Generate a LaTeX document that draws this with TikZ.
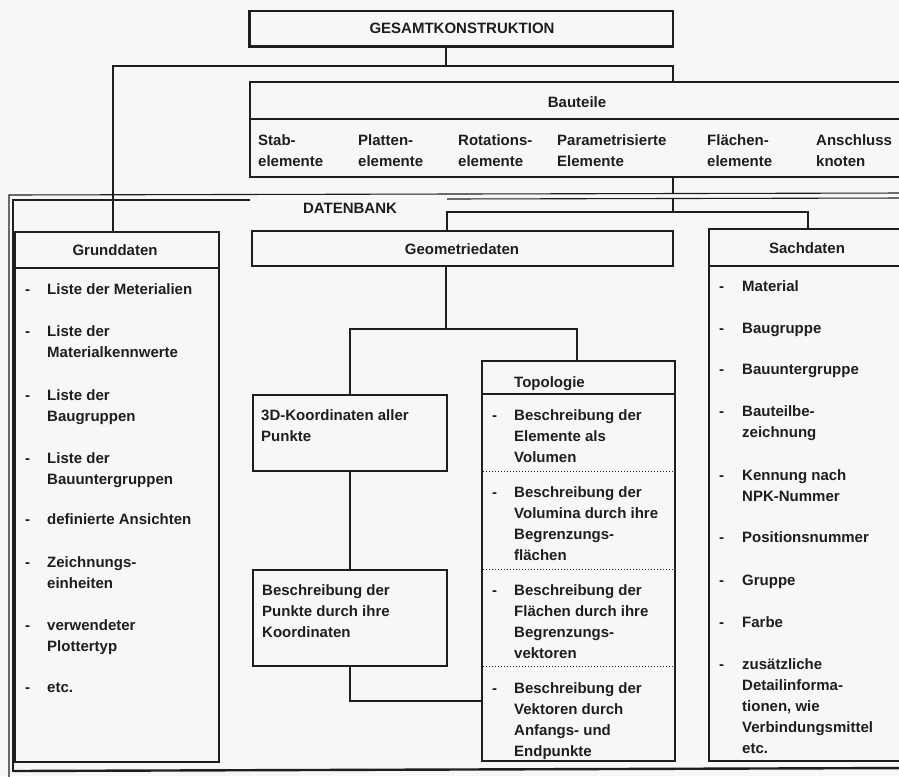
\documentclass[tikz,border=0pt]{standalone}
\usepackage{fontspec}
\setmainfont{Liberation Sans}
\newcommand\fsz{\fontsize{15}{21}\selectfont\bfseries}
\newcommand\mlines[1]{\begin{tabular}[t]{@{}l@{}}#1\end{tabular}}
\newcommand\listentry[5]{\node[lst] (#1d) at (#2,#4) {-};\node[lst] (#1) at (#3,#4) {\mlines{#5}};}
\definecolor{ink}{RGB}{30,30,30}
\definecolor{paper}{RGB}{248,247,246}
\begin{document}
\begin{tikzpicture}[x=1pt,y=-1pt,
  every node/.style={text=ink},
  box/.style={draw=ink, line width=1.1pt, rectangle, inner sep=0pt},
  lw/.style={draw=ink, line width=1.1pt},
  div/.style={draw=ink, line width=2.4pt},
  dots/.style={draw=ink, line width=1pt, dash pattern=on 1pt off 2pt},
  ttl/.style={inner sep=0pt, font=\fsz},
  lst/.style={inner sep=0pt, anchor=base west, font=\fsz}]
\fill[paper] (0,0) rectangle (899,776);
\useasboundingbox (0,0) rectangle (899,776);

% boxes
\node[box, minimum width=423pt, minimum height=35pt] (ges) at (461.5,28.5) {};
\draw[line width=2.6pt, ink] (ges.north west) -- (ges.south west) -- (ges.south east);
\node[ttl] (gest) at (462,28) {GESAMTKONSTRUKTION};

\node[box, minimum width=660pt, minimum height=95pt] (bau) at (580,129.5) {};
\draw[div] (250,119) -- (910,119);
\node[ttl] (baut) at (577,102) {Bauteile};
\node[lst] (b1) at (258,145) {\mlines{Stab-\\elemente}};
\node[lst] (b2) at (358,145) {\mlines{Platten-\\elemente}};
\node[lst] (b3) at (458,145) {\mlines{Rotations-\\elemente}};
\node[lst] (b4) at (557,145) {\mlines{Parametrisierte\\Elemente}};
\node[lst] (b5) at (707,145) {\mlines{Flächen-\\elemente}};
\node[lst] (b6) at (816,145) {\mlines{Anschluss\\knoten}};

% DATENBANK frame
\draw[lw] (9,780) -- (9,195) -- (910,193);
\draw[lw] (13,772) -- (13,200) -- (250,200);
\draw[lw] (447,199) -- (910,198);
\draw[line width=2.4pt, ink] (13,771) -- (910,768);
\node[ttl] (dbt) at (350,208) {DATENBANK};

\node[box, minimum width=204pt, minimum height=530pt] (grund) at (117,497) {};
\draw[div] (15,268) -- (219,268);
\node[ttl] (grundt) at (115,250) {Grunddaten};

\node[box, minimum width=421pt, minimum height=35pt] (geo) at (462.5,248.5) {};
\node[ttl] (geot) at (462,249) {Geometriedaten};

\node[box, minimum width=201pt, minimum height=532pt] (sach) at (809.5,495) {};
\draw[div] (709,266) -- (910,266);
\node[ttl] (sacht) at (807,248) {Sachdaten};

\node[box, minimum width=194pt, minimum height=76pt] (d3d) at (350,433) {};
\node[lst] (d3dt) at (261,420) {\mlines{3D-Koordinaten aller\\Punkte}};

\node[box, minimum width=194pt, minimum height=96pt] (besch) at (350,618) {};
\node[lst] (bescht) at (262,595) {\mlines{Beschreibung der\\Punkte durch ihre\\Koordinaten}};

\node[box, minimum width=193pt, minimum height=400pt] (topo) at (578.5,561) {};
\draw[div] (482,394) -- (675,394);
\node[lst] (topot) at (514,387) {Topologie};
\draw[dots] (483,471) -- (674,471);
\draw[dots] (483,569) -- (674,569);
\draw[dots] (483,666) -- (674,666);

% list entries
\listentry{g1}{25}{47}{294}{Liste der Meterialien}
\listentry{g2}{25}{47}{336}{Liste der\\Materialkennwerte}
\listentry{g3}{25}{47}{400}{Liste der\\Baugruppen}
\listentry{g4}{25}{47}{463}{Liste der\\Bauuntergruppen}
\listentry{g5}{25}{47}{524}{definierte Ansichten}
\listentry{g6}{25}{47}{567}{Zeichnungs-\\einheiten}
\listentry{g7}{25}{47}{630}{verwendeter\\Plottertyp}
\listentry{g8}{25}{47}{692}{etc.}

\listentry{t1}{492}{514}{420}{Beschreibung der\\Elemente als\\Volumen}
\listentry{t2}{492}{514}{497}{Beschreibung der\\Volumina durch ihre\\Begrenzungs-\\flächen}
\listentry{t3}{492}{514}{595}{Beschreibung der\\Flächen durch ihre\\Begrenzungs-\\vektoren}
\listentry{t4}{492}{514}{693}{Beschreibung der\\Vektoren durch\\Anfangs- und\\Endpunkte}

\listentry{s1}{719}{742}{291}{Material}
\listentry{s2}{719}{742}{333}{Baugruppe}
\listentry{s3}{719}{742}{374}{Bauuntergruppe}
\listentry{s4}{719}{742}{416}{Bauteilbe-\\zeichnung}
\listentry{s5}{719}{742}{480}{Kennung nach\\NPK-Nummer}
\listentry{s6}{719}{742}{542}{Positionsnummer}
\listentry{s7}{719}{742}{585}{Gruppe}
\listentry{s8}{719}{742}{627}{Farbe}
\listentry{s9}{719}{742}{669}{zusätzliche\\Detailinforma-\\tionen, wie\\Verbindungsmittel\\etc.}

% connectors
\coordinate (c1) at (113,66);
\coordinate (c2) at (673,66);
\coordinate (c3) at (446,66);
\draw[lw] (ges.south -| c3) -- (c3);
\draw[lw] (grund.north -| c1) -- (c1) -- (c2) -- (bau.north -| c2);

\coordinate (fo) at (673,193.5);
\coordinate (fi) at (673,198.5);
\coordinate (c4) at (673,212);
\coordinate (c5) at (447,212);
\coordinate (c6) at (808,212);
\draw[lw] (bau.south -| c4) -- (fo);
\draw[lw] (fi) -- (c4);
\draw[lw] (geo.north -| c5) -- (c5) -- (c6) -- (sach.north -| c6);

\coordinate (d1) at (446,329);
\coordinate (d2) at (350,329);
\coordinate (d3) at (577,329);
\draw[lw] (geo.south -| d1) -- (d1);
\draw[lw] (d3d.north) -- (d2) -- (d3) -- (topo.north -| d3);
\draw[lw] (d3d.south) -- (besch.north);
\coordinate (e1) at (350,701);
\draw[lw] (besch.south) -- (e1) -- (topo.west |- e1);
\end{tikzpicture}
\end{document}
